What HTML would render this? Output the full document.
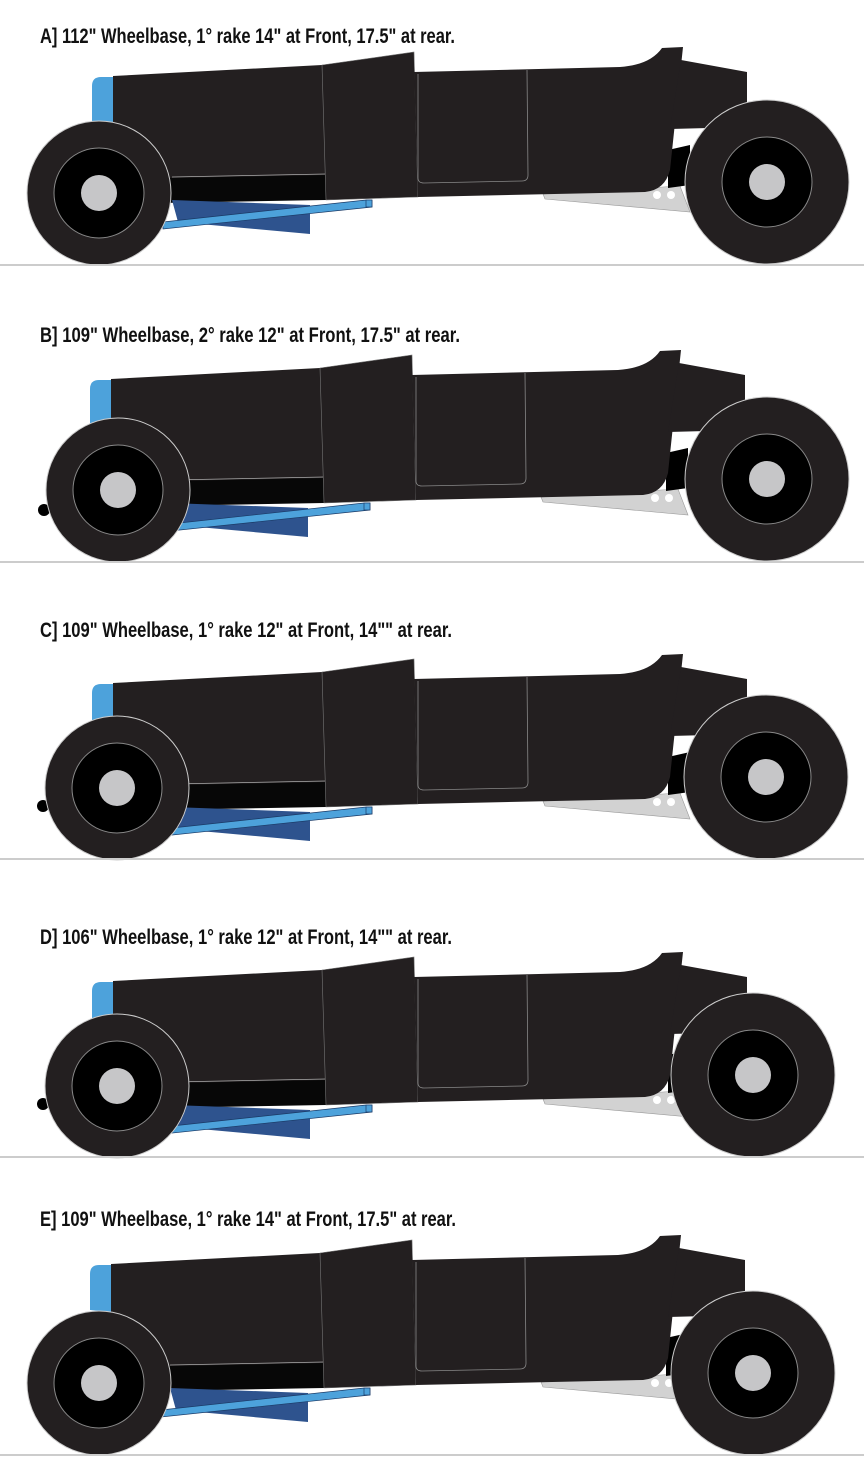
<!DOCTYPE html>
<html><head><meta charset="utf-8"><style>
html,body{margin:0;padding:0;background:#fff;}
svg{display:block}
text{font-family:"Liberation Sans Narrow","Liberation Sans",sans-serif;font-weight:bold;font-size:21px;fill:#111}
</style></head><body>
<svg width="864" height="1476" viewBox="0 0 864 1476" xmlns="http://www.w3.org/2000/svg">
<defs>
<g id="body">
  <path d="M543,194 L680,186 L690,212 L545,199 Z" fill="#d2d2d2" stroke="#999" stroke-width="0.6"/>
  <circle cx="657" cy="195" r="4" fill="#fff"/><circle cx="671" cy="195" r="4" fill="#fff"/>
  <path d="M668,150 L690,145 L690,185 L668,188 Z" fill="#000"/>
  <path d="M92,122 L92,86 Q92,77 101,77 L114,77 L114,124 Z" fill="#4da2db"/>
  <path d="M160,176 L326,173 L326,200 L160,203 Z" fill="#070707"/>
  <path d="M113,76 L322,65 L326,175 L172,178 L113,178 Z" fill="#231f20"/>
  <line x1="172" y1="177" x2="326" y2="174" stroke="#aaa" stroke-width="0.8"/>
  <path d="M322,65 L414,52 L418,197 L326,200 Z" fill="#231f20" stroke="#777" stroke-width="0.6"/>
  <path d="M414,72 L620,67 Q650,65 662,48 L683,47 L670,170 Q665,190 645,192 L418,197 Z" fill="#231f20"/>
  <path d="M418,74 L418,178 Q418,183 424,183 L522,181 Q528,181 528,175 L527,70" fill="none" stroke="#888" stroke-width="0.8"/>
  <path d="M681,60 L747,72 L747,127 L670,129 Z" fill="#231f20"/>
  <path d="M172,200 L310,205 L310,234 L178,222 Z" fill="#2e538e"/>
  <path d="M163,222 L366,200 L372,200 L372,207 L163,229 Z" fill="#4da2db" stroke="#1a3a66" stroke-width="0.7"/>
  <rect x="366" y="200" width="6" height="7" fill="#4da2db" stroke="#1a3a66" stroke-width="0.7"/>
</g>
<g id="fw">
  <circle r="72" fill="#231f20" stroke="#ccc" stroke-width="1"/>
  <circle r="45" fill="#000" stroke="#888" stroke-width="1"/>
  <circle r="18" fill="#c6c6c8"/>
</g>
<g id="rw">
  <circle r="82" fill="#231f20" stroke="#ccc" stroke-width="1"/>
  <circle r="45" fill="#000" stroke="#888" stroke-width="1"/>
  <circle r="18" fill="#c6c6c8"/>
</g>
</defs>

<!-- A -->
<text x="40" y="43" textLength="415" lengthAdjust="spacingAndGlyphs">A] 112" Wheelbase, 1° rake 14" at Front, 17.5" at rear.</text>
<use href="#body" transform="translate(0,0)"/>
<use href="#fw" x="99" y="193"/>
<use href="#rw" x="767" y="182"/>
<rect x="0" y="264" width="864" height="2" fill="#ccc"/>

<!-- B -->
<text x="40" y="342" textLength="420" lengthAdjust="spacingAndGlyphs">B] 109" Wheelbase, 2° rake 12" at Front, 17.5" at rear.</text>
<use href="#body" transform="translate(-2,303)"/>
<circle cx="44" cy="510" r="6" fill="#000"/>
<use href="#fw" x="118" y="490"/>
<use href="#rw" x="767" y="479"/>
<rect x="0" y="561" width="864" height="2" fill="#ccc"/>

<!-- C -->
<text x="40" y="637" textLength="412" lengthAdjust="spacingAndGlyphs">C] 109" Wheelbase, 1° rake 12" at Front, 14"" at rear.</text>
<use href="#body" transform="translate(0,607)"/>
<circle cx="43" cy="806" r="6" fill="#000"/>
<use href="#fw" x="117" y="788"/>
<use href="#rw" x="766" y="777"/>
<rect x="0" y="858" width="864" height="2" fill="#ccc"/>

<!-- D -->
<text x="40" y="944" textLength="412" lengthAdjust="spacingAndGlyphs">D] 106" Wheelbase, 1° rake 12" at Front, 14"" at rear.</text>
<use href="#body" transform="translate(0,905)"/>
<circle cx="43" cy="1104" r="6" fill="#000"/>
<use href="#fw" x="117" y="1086"/>
<use href="#rw" x="753" y="1075"/>
<rect x="0" y="1156" width="864" height="2" fill="#ccc"/>

<!-- E -->
<text x="40" y="1226" textLength="416" lengthAdjust="spacingAndGlyphs">E] 109" Wheelbase, 1° rake 14" at Front, 17.5" at rear.</text>
<use href="#body" transform="translate(-2,1188)"/>
<use href="#fw" x="99" y="1383"/>
<use href="#rw" x="753" y="1373"/>
<rect x="0" y="1454" width="864" height="2" fill="#ccc"/>
</svg>
</body></html>
